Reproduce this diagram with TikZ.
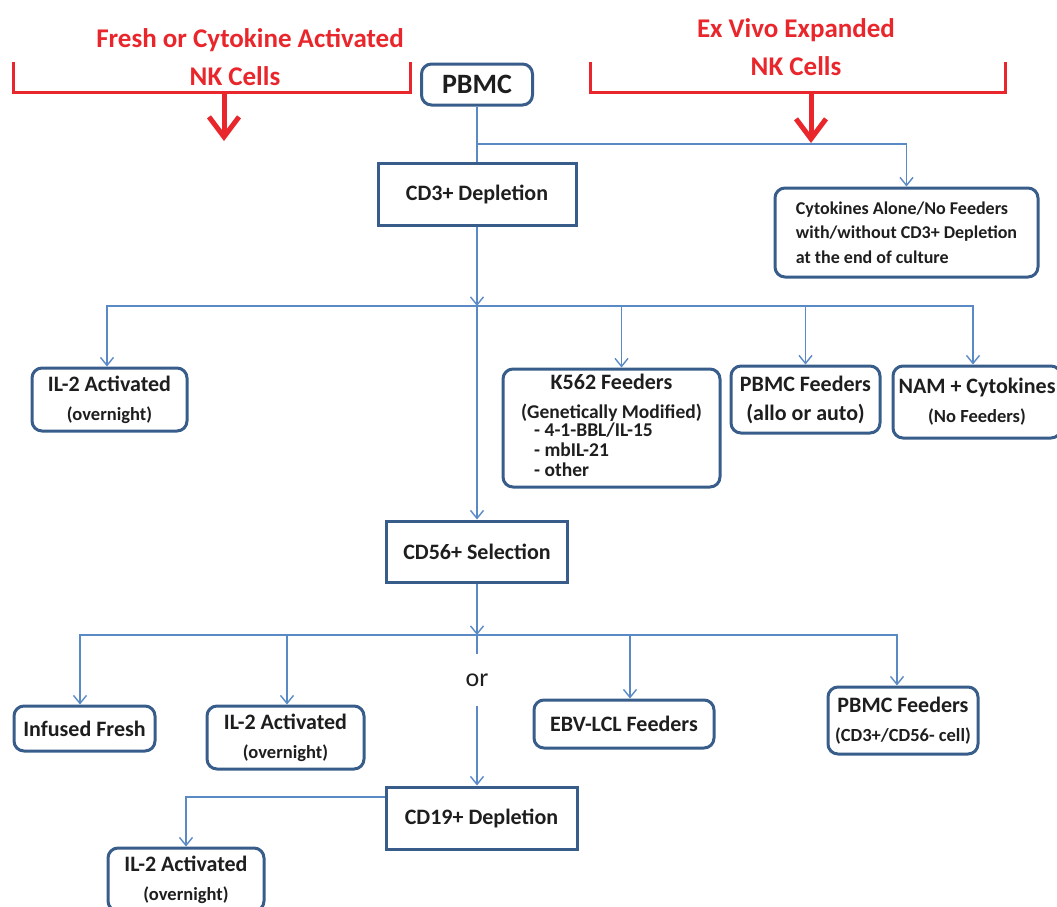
\documentclass[tikz,border=0pt]{standalone}
\usepackage{fontspec}
\setmainfont{Carlito}
\usetikzlibrary{arrows.meta}

\definecolor{boxline}{HTML}{385D8A}
\definecolor{flowline}{HTML}{5A8AC6}
\definecolor{nkred}{HTML}{E8262B}
\definecolor{txt}{HTML}{1E1E1E}

\newcommand{\subtxt}[1]{{\fontsize{18.5}{21}\selectfont #1}}

\tikzset{
	sqbox/.style={draw=boxline, line width=3pt, fill=white, text=txt, align=center,
		inner sep=0pt, font=\bfseries\fontsize{22}{29}\selectfont},
	rbox/.style={sqbox, rounded corners=10pt},
	flow/.style={draw=flowline, line width=1.4pt},
	flowarr/.style={flow, -{Straight Barb[length=8pt,width=13pt]}},
	bracket/.style={draw=nkred, line width=3pt},
	nkarr/.style={draw=nkred, line width=5pt, -{Straight Barb[length=20pt,width=30pt]}},
	nktext/.style={text=nkred, align=center, font=\bfseries\fontsize{27}{38}\selectfont},
}

\begin{document}
\begin{tikzpicture}[x=1pt, y=-1pt]
	\useasboundingbox (0,0) rectangle (1057,906);
	\clip (0,0) rectangle (1057,906);

	% red headings
	\node[nktext] (fresh) at (250,57) {Fresh or Cytokine Activated\\NK Cells\hspace*{30pt}};
	\node[nktext] (exvivo) at (796,47) {Ex Vivo Expanded\\NK Cells};
	\draw[bracket] (13,62) -- (13,92) -- (410,92) -- (410,62);
	\draw[nkarr] (224,92) -- (224,141);
	\draw[bracket] (590,62) -- (590,92) -- (1005,92) -- (1005,62);
	\draw[nkarr] (811,92) -- (811,143);

	% boxes
	\node[rbox, minimum width=111, minimum height=41, font=\bfseries\fontsize{28}{32}\selectfont] (pbmc) at (477,84.5) {PBMC};
	\node[sqbox, minimum width=198, minimum height=62] (cd3) at (477,194) {CD3+ Depletion};
	\node[rbox, minimum width=263, minimum height=89, align=left, font=\bfseries\fontsize{18}{24.5}\selectfont] (cyto) at (906.5,232.5)
		{Cytokines Alone/No Feeders\\with/without CD3+ Depletion\\at the end of culture};

	\node[rbox, minimum width=155, minimum height=63] (il2a) at (109.5,399.5) {IL-2 Activated\\\subtxt{(overnight)}};
	\node[rbox, minimum width=217, minimum height=118] (k562) at (611.5,428)
		{K562 Feeders\\{\fontsize{19.5}{20}\selectfont (Genetically Modified)}\\
		{\fontsize{19.5}{20}\selectfont\begin{tabular}{@{}l@{}}- 4-1-BBL/IL-15\\- mbIL-21\\- other\end{tabular}}\hspace*{36pt}};
	\node[rbox, minimum width=149, minimum height=67] (pbf) at (805.5,399.5) {PBMC Feeders\\(allo or auto)};
	\node[rbox, minimum width=168, minimum height=72] (nam) at (977,402) {NAM + Cytokines\\\subtxt{(No Feeders)}};

	\node[sqbox, minimum width=181, minimum height=61] (cd56) at (477,551.5) {CD56+ Selection};
	\node[text=txt, font=\fontsize{26}{30}\selectfont, minimum height=52] (orw) at (477,680) {or};

	\node[rbox, minimum width=141, minimum height=45] (infused) at (84.5,728.5) {Infused Fresh};
	\node[rbox, minimum width=157, minimum height=63] (il2b) at (285.5,737.5) {IL-2 Activated\\\subtxt{(overnight)}};
	\node[rbox, minimum width=180, minimum height=48] (ebv) at (624,724) {EBV-LCL Feeders};
	\node[rbox, minimum width=150, minimum height=67] (pbf2) at (903,720.5) {PBMC Feeders\\\subtxt{(CD3+/CD56- cell)}};

	\node[sqbox, minimum width=191, minimum height=62] (cd19) at (481.5,818) {CD19+ Depletion};
	\node[rbox, minimum width=156, minimum height=63] (il2c) at (186,879.5) {IL-2 Activated\\\subtxt{(overnight)}};

	% junctions
	\coordinate (j1) at (477,144);
	\coordinate (j2) at (477,306);
	\coordinate (j3) at (477,635);

	% connectors
	\draw[flow] (pbmc) -- (cd3);
	\draw[flowarr] (j1) -| (cyto);
	\draw[flowarr] (cd3) -- (j2);
	\draw[flowarr] (j2) -- (cd56);
	\draw[flowarr] (j2) -| ([xshift=-2.5pt]il2a.north);
	\draw[flowarr] (j2) -| ([xshift=10pt]k562.north);
	\draw[flowarr] (j2) -| (pbf);
	\draw[flowarr] (j2) -| ([xshift=-4pt]nam.north);

	\draw[flowarr] (cd56) -- (j3);
	\draw[flow] (j3) -- (orw);
	\draw[flowarr] (orw) -- (orw |- cd19.north);
	\draw[flowarr] (j3) -| ([xshift=-4.5pt]infused.north);
	\draw[flowarr] (j3) -| ([xshift=1.5pt]il2b.north);
	\draw[flowarr] (j3) -| ([xshift=6pt]ebv.north);
	\draw[flowarr] (j3) -| ([xshift=-6pt]pbf2.north);
	\draw[flowarr] ([yshift=21pt]cd19.west) -| (il2c);
\end{tikzpicture}
\end{document}
